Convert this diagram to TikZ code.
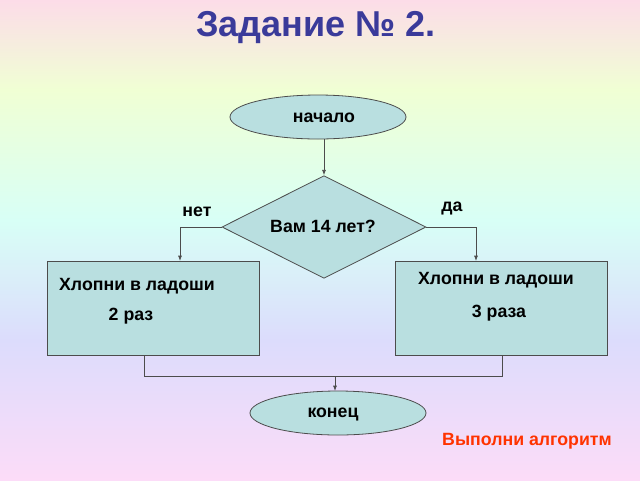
\documentclass[tikz,border=0pt]{standalone}
\usepackage{fontspec}
\setmainfont{Liberation Sans}
\usetikzlibrary{shapes.geometric,arrows.meta}
\definecolor{fillblue}{HTML}{B9DFE0}
\definecolor{titleblue}{HTML}{3A3A9A}
\definecolor{redtext}{HTML}{FF3300}
\definecolor{bgpink}{HTML}{FCDCE8}
\definecolor{bgyellow}{HTML}{F0FFD4}
\definecolor{bgcyan}{HTML}{D8FFF6}
\definecolor{bglav}{HTML}{DCDCFC}
\definecolor{bgrose}{HTML}{FCDCF8}
\begin{document}
\begin{tikzpicture}[x=0.75pt,y=-0.75pt,
    blk/.style={draw=black!70, fill=fillblue, line width=0.6pt},
    oval/.style={blk, ellipse, minimum width=132pt, minimum height=33pt, inner sep=0pt},
    rhomb/.style={blk, diamond, minimum width=153pt, minimum height=77pt, inner sep=0pt},
    box/.style={blk, rectangle, minimum width=159pt, minimum height=70.5pt},
    txt/.style={font=\bfseries\fontsize{13.3}{16}\selectfont},
    arr/.style={draw=black!70, line width=0.6pt, -{Latex[length=4pt,width=3pt]}},
    ln/.style={draw=black!70, line width=0.6pt}]
  % background bands
  \shade[top color=bgpink, bottom color=bgyellow] (0,0) rectangle (640,90);
  \shade[top color=bgyellow, bottom color=bgcyan] (0,90) rectangle (640,220);
  \shade[top color=bgcyan, bottom color=bglav] (0,220) rectangle (640,340);
  \shade[top color=bglav, bottom color=bgrose] (0,340) rectangle (640,480);
  \useasboundingbox (0,0) rectangle (640,480);
  % title
  \node[text=titleblue, font=\bfseries\fontsize{27}{32}\selectfont] (title) at (316,28) {Задание № 2.};
  % blocks
  \node[oval] (start) at (318,117) {};
  \node[txt] (starttxt) at (324,118) {начало};
  \node[rhomb] (ask) at (324,227) {};
  \node[txt] (asktxt) at (323,226) {Вам 14 лет?};
  \node[box] (left) at (153,308) {};
  \node[txt] (lefta) at (137,286) {Хлопни в ладоши};
  \node[txt] (leftb) at (131,316) {2 раз};
  \node[box] (right) at (501.5,308) {};
  \node[txt] (righta) at (496,280) {Хлопни в ладоши};
  \node[txt] (rightb) at (499,313) {3 раза};
  \node[oval] (stop) at (338,413) {};
  \node[txt] (stoptxt) at (333,414) {конец};
  % labels
  \node[txt] (no) at (197,212) {нет};
  \node[txt] (yes) at (452,208) {да};
  \node[txt, text=redtext] (task) at (527,441) {Выполни алгоритм};
  % connectors
  \coordinate (lj) at (144,376);
  \coordinate (rj) at (502,376);
  \draw[arr] (start.south -| ask.north) -- (ask.north);
  \draw[arr] (ask.west) -- (180,227) -- (180,261);
  \draw[arr] (ask.east) -- (476,227) -- (476,261);
  \draw[ln] (144,355) -- (lj) -- (rj) -- (502,355);
  \draw[arr] (335,376) -- (335,391);
\end{tikzpicture}
\end{document}
